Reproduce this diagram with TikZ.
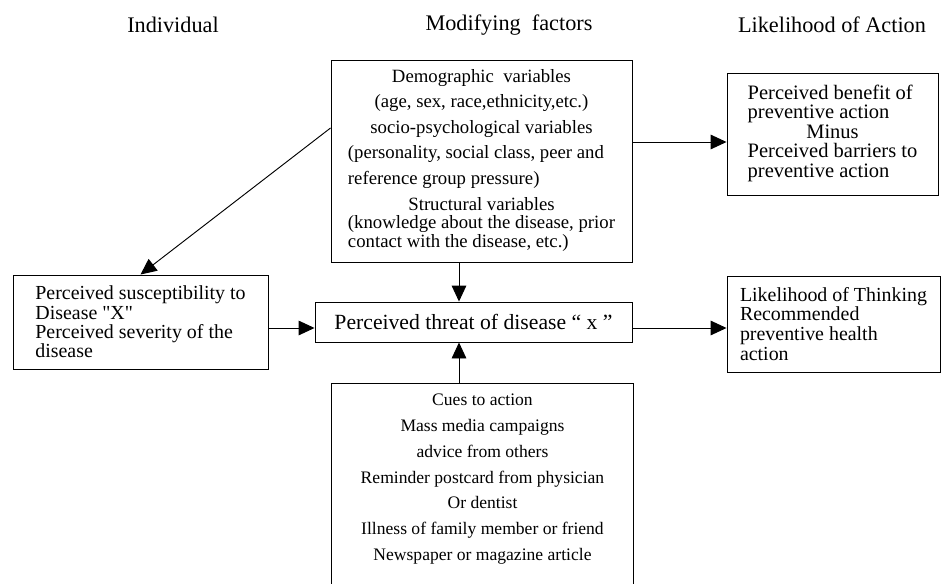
\documentclass[tikz,border=0pt]{standalone}
\usepackage{fontspec}
\setmainfont{Liberation Serif}
\usetikzlibrary{positioning, arrows.meta}

\begin{document}
\begin{tikzpicture}[
    x=0.03cm, y=-0.03cm,
    every node/.style={align=center, inner sep=0pt},
    box/.style={draw, line width=0.8pt},
    head/.style={font=\fontsize{19}{21}\selectfont},
    >={Triangle[length=4.8mm, width=4.4mm]}
]
    \def\px{0.03cm}
    \useasboundingbox (0,0) rectangle (943,584);

    % column headings
    \node[head] (hind) at (173,25) {Individual};
    \node[head] (hmod) at (509,25) {Modifying\ \ factors};
    \node[head] (hact) at (832,25) {Likelihood of Action};

    \node[box, minimum width=301*\px, minimum height=202*\px,
          font=\fontsize{16}{15.8}\selectfont] (demo) at (481.5,161) {%
        \begin{tabular}{@{}l@{}}
        \multicolumn{1}{@{}c@{}}{Demographic\ \ variables}\\[6pt]
        \multicolumn{1}{@{}c@{}}{(age, sex, race,ethnicity,etc.)}\\[6pt]
        \multicolumn{1}{@{}c@{}}{socio-psychological variables}\\[6pt]
        (personality, social class, peer and\\[6pt]
        reference group pressure)\\[6pt]
        \multicolumn{1}{@{}c@{}}{Structural variables}\\
        (knowledge about the disease, prior\\
        contact with the disease, etc.)
        \end{tabular}};

    \node[box, minimum width=211*\px, minimum height=122*\px,
          font=\fontsize{17.5}{16}\selectfont] (benefit) at (832.5,134) {%
        \begin{tabular}{@{}l@{}}
        Perceived benefit of\\
        preventive action\\
        \multicolumn{1}{@{}c@{}}{Minus}\\
        Perceived barriers to\\
        preventive action
        \end{tabular}};

    \node[box, align=left, minimum width=255*\px, minimum height=94*\px,
          font=\fontsize{17}{16.4}\selectfont] (suscept) at (140.5,322)
        {Perceived susceptibility to\\ Disease \textquotedbl X\textquotedbl\\
         Perceived severity of the\\ disease};

    \node[box, minimum width=317*\px, minimum height=40*\px,
          font=\fontsize{18.5}{20}\selectfont] (threat) at (473.5,322)
        {Perceived threat of disease “ x ”};

    \node[box, align=left, minimum width=213*\px, minimum height=96*\px,
          font=\fontsize{17}{17}\selectfont] (thinking) at (833.5,324)
        {Likelihood of Thinking\\ Recommended\\ preventive health\\ action};

    \node[anchor=north, minimum width=301*\px, inner ysep=11*\px,
          font=\fontsize{15}{22}\selectfont] (cues) at (482.5,383)
        {Cues to action\\ Mass media campaigns\\ advice from others\\
         Reminder postcard from physician\\ Or dentist\\
         Illness of family member or friend\\ Newspaper or magazine article};

    \coordinate (pagebot) at (0,584);
    \coordinate (axis) at (0,328);   % level of the middle arrows
    \coordinate (toplevel) at (0,142);
    \coordinate (vline) at (459,0);

    % cues box runs off the page
    \draw[line width=0.8pt] (cues.north west |- pagebot) -- (cues.north west)
        -- (cues.north east) -- (cues.north east |- pagebot);

    \draw[line width=0.8pt, ->] ([yshift=33*\px]demo.west) -- (suscept.north);
    \draw[line width=0.8pt, ->] (demo.east |- toplevel) -- (benefit.west |- toplevel);
    \draw[line width=0.8pt, ->] (demo.south -| vline) -- (threat.north -| vline);
    \draw[line width=0.8pt, ->] (cues.north -| vline) -- (threat.south -| vline);
    \draw[line width=0.8pt, ->] (suscept.east |- axis) -- (threat.west |- axis);
    \draw[line width=0.8pt, ->] (threat.east |- axis) -- (thinking.west |- axis);
\end{tikzpicture}
\end{document}
